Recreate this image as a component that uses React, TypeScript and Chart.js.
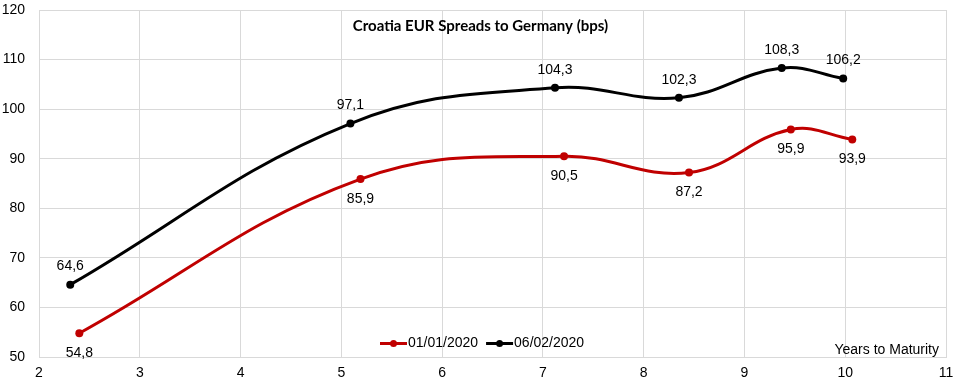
import React, { useEffect, useRef } from "react";
import { Chart, registerables } from "chart.js";

Chart.register(...registerables);

const TITLE = "Croatia EUR Spreads to Germany (bps)";
const X_AXIS_TITLE = "Years to Maturity";

const SERIES_A_LABEL = "01/01/2020";
const SERIES_A_X = [2.4, 5.19, 7.21, 8.45, 9.46, 10.07];
const SERIES_A_Y = [54.8, 85.9, 90.5, 87.2, 95.9, 93.9];

const SERIES_B_LABEL = "06/02/2020";
const SERIES_B_X = [2.31, 5.09, 7.12, 8.35, 9.37, 9.98];
const SERIES_B_Y = [64.6, 97.1, 104.3, 102.3, 108.3, 106.2];

const X_MIN = 2;
const X_MAX = 11;
const Y_MIN = 50;
const Y_MAX = 120;

const RED = "#C00000";
const BLACK = "#000000";
const GRID = "#D9D9D9";
const FONT = "'Liberation Sans', Arial, sans-serif";

const fmt = (v: number) => v.toFixed(1).replace(".", ",");

const overlayPlugin = {
  id: "overlay",
  afterDatasetsDraw(chart: any) {
    const ctx = chart.ctx;
    const area = chart.chartArea;
    ctx.save();
    ctx.font = `14px ${FONT}`;
    ctx.fillStyle = "#000";
    ctx.textAlign = "center";
    ctx.textBaseline = "middle";
    chart.data.datasets.forEach((ds: any, i: number) => {
      const meta = chart.getDatasetMeta(i);
      const above = ds.labelPos === "above";
      meta.data.forEach((pt: any, j: number) => {
        const v = ds.data[j].y;
        const y = above ? pt.y - 18 : pt.y + 20;
        ctx.fillText(fmt(v), pt.x, y);
      });
    });
    ctx.font = `bold 15px Lato, 'Open Sans', sans-serif`;
    ctx.fillText(TITLE, 480.5, 26);
    ctx.font = `14px ${FONT}`;
    ctx.textAlign = "right";
    ctx.fillText(X_AXIS_TITLE, area.right - 7, 350);
    const items = chart.data.datasets.map((ds: any) => ({
      label: ds.label,
      color: ds.borderColor,
    }));
    let x = 380;
    const ly = 343.5;
    ctx.textAlign = "left";
    items.forEach((it: any) => {
      ctx.strokeStyle = it.color;
      ctx.lineWidth = 3;
      ctx.beginPath();
      ctx.moveTo(x, ly);
      ctx.lineTo(x + 27, ly);
      ctx.stroke();
      ctx.fillStyle = it.color;
      ctx.beginPath();
      ctx.arc(x + 13.5, ly, 3.5, 0, Math.PI * 2);
      ctx.fill();
      ctx.fillStyle = "#000";
      ctx.fillText(it.label, x + 28, ly);
      x += 28 + ctx.measureText(it.label).width + 8;
    });
    ctx.restore();
  },
};

export default function App() {
  const ref = useRef<HTMLCanvasElement>(null);
  useEffect(() => {
    document.body.style.margin = "0";
    const toPts = (xs: number[], ys: number[]) =>
      xs.map((x, i) => ({ x, y: ys[i] }));
    const chart = new Chart(ref.current!, {
      type: "line",
      data: {
        datasets: [
          {
            label: SERIES_A_LABEL,
            data: toPts(SERIES_A_X, SERIES_A_Y),
            borderColor: RED,
            backgroundColor: RED,
            borderWidth: 3,
            pointRadius: 4,
            pointBorderWidth: 0,
            tension: 0.4,
            labelPos: "below",
          } as any,
          {
            label: SERIES_B_LABEL,
            data: toPts(SERIES_B_X, SERIES_B_Y),
            borderColor: BLACK,
            backgroundColor: BLACK,
            borderWidth: 3,
            pointRadius: 4,
            pointBorderWidth: 0,
            tension: 0.4,
            labelPos: "above",
          } as any,
        ],
      },
      options: {
        responsive: false,
        animation: false,
        devicePixelRatio: 1,
        layout: { padding: { top: 10, right: 16, left: 0, bottom: 0 } },
        plugins: {
          legend: { display: false },
          title: { display: false },
          tooltip: { enabled: false },
        },
        scales: {
          x: {
            type: "linear",
            min: X_MIN,
            max: X_MAX,
            ticks: {
              stepSize: 1,
              font: { family: FONT, size: 14 },
              color: "#000",
              padding: 8,
            },
            grid: { color: GRID, drawTicks: false },
            border: { color: GRID },
            afterFit: (s: any) => {
              s.height = 28;
              s.paddingLeft = 0;
              s.paddingRight = 0;
            },
          },
          y: {
            min: Y_MIN,
            max: Y_MAX,
            ticks: {
              stepSize: 10,
              font: { family: FONT, size: 14 },
              color: "#000",
              padding: 14,
            },
            grid: { color: GRID, drawTicks: false },
            border: { color: GRID },
            afterFit: (s: any) => {
              s.width = 39;
              s.paddingTop = 0;
              s.paddingBottom = 0;
            },
          },
        },
      },
      plugins: [overlayPlugin],
    });
    return () => chart.destroy();
  }, []);
  return <canvas ref={ref} width={962} height={385} />;
}
